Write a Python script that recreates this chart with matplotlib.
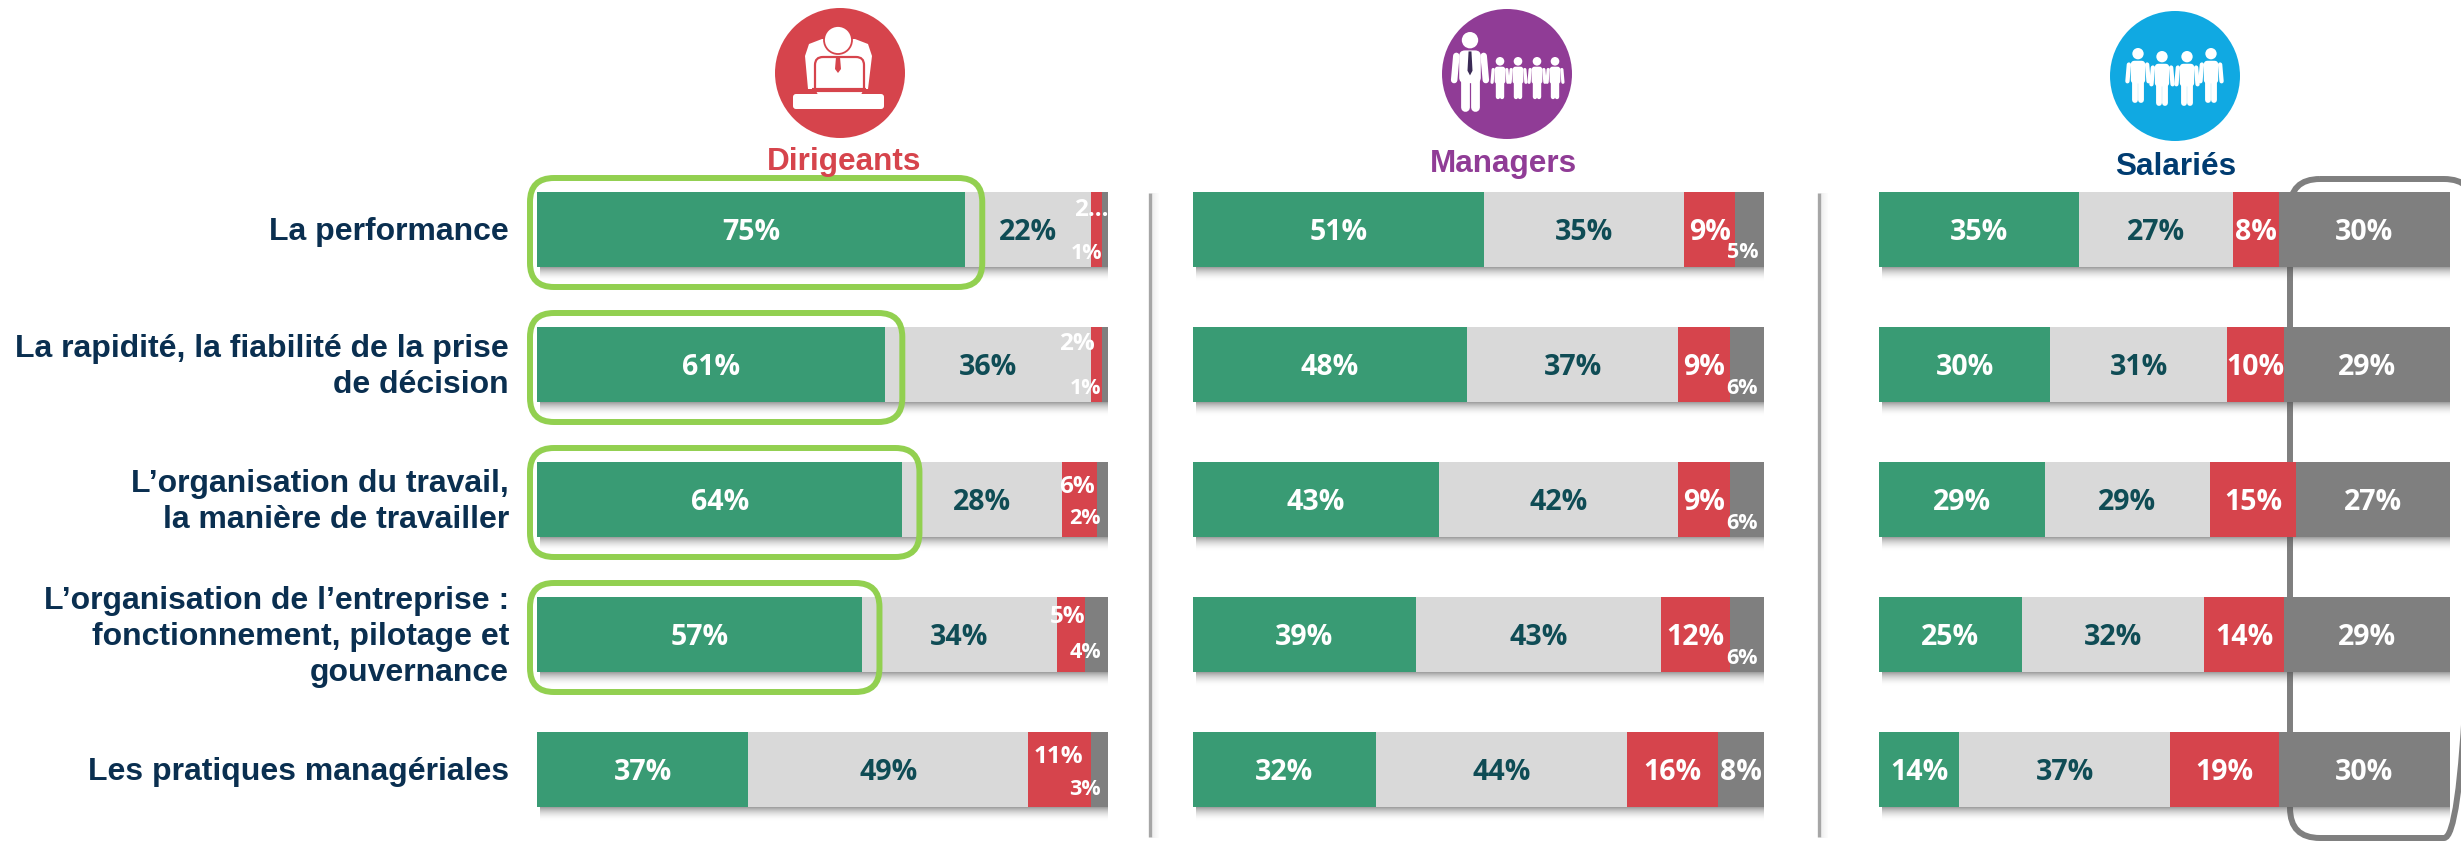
import matplotlib
matplotlib.use('Agg')
import matplotlib.pyplot as plt
from matplotlib.patches import Circle, FancyBboxPatch, Polygon

W, H = 2461, 841

# Donnees
categories = [
    "La performance",
    "La rapidité, la fiabilité de la prise\nde décision",
    "L’organisation du travail,\nla manière de travailler",
    "L’organisation de l’entreprise :\nfonctionnement, pilotage et\ngouvernance",
    "Les pratiques managériales",
]
dirigeants = [[75, 61, 64, 57, 37], [22, 36, 28, 34, 49], [2, 2, 6, 5, 11], [1, 1, 2, 4, 3]]
managers = [[51, 48, 43, 39, 32], [35, 37, 42, 43, 44], [9, 9, 9, 12, 16], [5, 6, 6, 6, 8]]
salaries = [[35, 30, 29, 25, 14], [27, 31, 29, 32, 37], [8, 10, 15, 14, 19], [30, 29, 27, 29, 30]]
panel_names = ["Dirigeants", "Managers", "Salariés"]
highlighted_rows = [0, 1, 2, 3]

GREEN, LIGHT, RED, GREY = "#399B74", "#D9D9D9", "#D6444C", "#7F7F7F"
seg_colors = [GREEN, LIGHT, RED, GREY]
txt_colors = ["white", "#0F4C55", "white", "white"]
NAVY = "#0A2F50"
LABEL_FONT = "Open Sans"

# repositionnement des petites etiquettes: (panneau, ligne, segment) -> x en %, dy en px, texte
label_moves = {
    (0, 0, 2): (97.0, -19, "2..."),
    (0, 0, 3): (96.3, 24, "1%"),
    (0, 1, 2): (94.5, -20, "2%"),
    (0, 1, 3): (96.0, 24, "1%"),
    (0, 2, 2): (94.5, -12, "6%"),
    (0, 2, 3): (96.0, 20, "2%"),
    (0, 3, 2): (92.9, -17, "5%"),
    (0, 3, 3): (96.0, 18, "4%"),
    (0, 4, 2): (91.3, -12, "11%"),
    (0, 4, 3): (96.0, 20, "3%"),
    (1, 0, 3): (96.2, 23, "5%"),
    (1, 1, 3): (96.2, 24, "6%"),
    (1, 2, 3): (96.2, 24, "6%"),
    (1, 3, 3): (96.2, 24, "6%"),
}

fig = plt.figure(figsize=(W / 100, H / 100), dpi=100, facecolor="white")


def pixel_axes(z):
    ax = fig.add_axes([0, 0, 1, 1], zorder=z)
    ax.set_xlim(0, W)
    ax.set_ylim(H, 0)
    ax.axis("off")
    ax.patch.set_alpha(0)
    return ax


back = pixel_axes(0)
front = pixel_axes(5)

# Cadre gris derriere les barres
back.add_patch(FancyBboxPatch((2290, 179), 184, 659, boxstyle="round,pad=0,rounding_size=30",
                              fc="none", ec=GREY, lw=4.3))

# Separateurs
for x in [1150, 1819]:
    for k in range(1, 8):
        back.plot([x + k + 1, x + k + 1], [193, 837], color="#909090", lw=0.72, alpha=0.16 - 0.02 * k)
    back.plot([x, x], [193, 837], color="#A6A6A6", lw=2.4, solid_capstyle="butt")

# Barres
lefts = [537, 1193, 1879]
BAR_W = 571
PITCH = 135
ROW0 = 229
BAR_H = 75 / PITCH
LABEL_DY = 3 / PITCH

for p, series in enumerate([dirigeants, managers, salaries]):
    ax = fig.add_axes([lefts[p] / W, 0, BAR_W / W, 1], zorder=2)
    ax.set_xlim(0, 100)
    ax.set_ylim((H - ROW0) / PITCH, -ROW0 / PITCH)
    ax.axis("off")
    ax.patch.set_alpha(0)

    rows = range(len(categories))
    # ombre sous les barres
    for k in range(14):
        ax.barh([r + BAR_H / 2 + (k + 0.5) / PITCH for r in rows], [100] * 5,
                height=1 / PITCH, left=0.5, color="#555555",
                alpha=0.55 * (1 - k / 14) ** 2, lw=0)

    cum = [0] * 5
    for s, values in enumerate(series):
        ax.barh(list(rows), values, left=cum, height=BAR_H, color=seg_colors[s], lw=0)
        for r, v in enumerate(values):
            move = label_moves.get((p, r, s))
            if move:
                ax.text(move[0], r + move[1] / PITCH, move[2], ha="center", va="center",
                        color="white", fontsize=17.5 if s == 2 else 15.5, fontweight="bold", family=LABEL_FONT)
            else:
                ax.text(cum[r] + v / 2, r + LABEL_DY, f"{v}%", ha="center", va="center", color=txt_colors[s],
                        fontsize=20.5, fontweight="bold", family=LABEL_FONT)
        cum = [c + v for c, v in zip(cum, values)]

# Contours verts des dirigeants
for r in highlighted_rows:
    top = ROW0 + r * PITCH - 51
    x1 = lefts[0] + dirigeants[0][r] * BAR_W / 100 + 17
    front.add_patch(FancyBboxPatch((530, top), x1 - 530, 109, boxstyle="round,pad=0,rounding_size=24",
                                   fc="none", ec="#92D050", lw=4.3))

# Libelles des lignes
for r, cat in enumerate(categories):
    front.text(509, ROW0 + r * PITCH + 3, cat, ha="right", va="center", color=NAVY, fontsize=23,
               fontweight="bold", family="Liberation Sans", linespacing=1.25)

# Titres
title_x = [844, 1503, 2176]
title_y = [170, 172, 175]
title_col = [RED, "#903C96", "#003C71"]
for name, x, y, c in zip(panel_names, title_x, title_y, title_col):
    front.text(x, y, name, ha="center", va="baseline", color=c, fontsize=22.7,
               fontweight="bold", family="Liberation Sans")


def person(ax, cx, top, h, w, tie=None):
    # petit pictogramme blanc
    r = h * 0.105
    ax.add_patch(Circle((cx, top + r), r, fc="white", ec="none"))
    y0 = top + 2.25 * r
    ax.add_patch(FancyBboxPatch((cx - w * 0.3, y0), w * 0.6, h * 0.42,
                                boxstyle=f"round,pad=0,rounding_size={w * 0.16}", fc="white", ec="none"))
    lw = w * 0.13
    for sgn in [-1, 1]:
        ax.plot([cx + sgn * w * 0.38, cx + sgn * w * 0.44], [y0 + h * 0.07, y0 + h * 0.38],
                color="white", lw=lw, solid_capstyle="round")
        ax.plot([cx + sgn * w * 0.13] * 2, [y0 + h * 0.35, top + h - lw * 0.6],
                color="white", lw=lw * 1.35, solid_capstyle="round")
    if tie:
        ax.add_patch(Polygon([(cx - w * 0.04, y0 + 1), (cx + w * 0.04, y0 + 1), (cx + w * 0.07, y0 + h * 0.26),
                              (cx, y0 + h * 0.32), (cx - w * 0.07, y0 + h * 0.26)], fc=tie, ec="none"))


# Icones
front.add_patch(Circle((840, 73), 65, fc=RED, ec="none"))
front.add_patch(Circle((1507, 74), 65, fc="#903C96", ec="none"))
front.add_patch(Circle((2175, 76), 65, fc="#10A9E2", ec="none"))

# dirigeant derriere son bureau
front.add_patch(Polygon([(808, 89), (805, 56), (809, 44), (822, 39), (855, 39), (868, 44), (872, 56), (868, 89)],
                        fc="white", ec="none"))
front.add_patch(FancyBboxPatch((815, 57), 49, 40, boxstyle="round,pad=0,rounding_size=8",
                               fc="white", ec=RED, lw=1.6))
front.add_patch(Circle((838, 40), 14, fc="white", ec=RED, lw=1.3))
front.add_patch(Polygon([(836, 57), (840, 57), (841, 69), (838, 73), (835, 69)], fc=RED, ec="none"))
front.add_patch(FancyBboxPatch((793, 94), 91, 15, boxstyle="round,pad=0,rounding_size=3", fc="white", ec="none"))
front.plot([812, 866], [90, 90], color=RED, lw=3, solid_capstyle="butt")

person(front, 1470, 32, 78, 36, tie="#3A2A55")
for x in [1500, 1518, 1537, 1555]:
    person(front, x, 57, 41, 18)
for x, t in zip([2138, 2162, 2187, 2211], [48, 51, 51, 48]):
    person(front, x, t, 54, 24)

fig.savefig("out.png", dpi=100)
